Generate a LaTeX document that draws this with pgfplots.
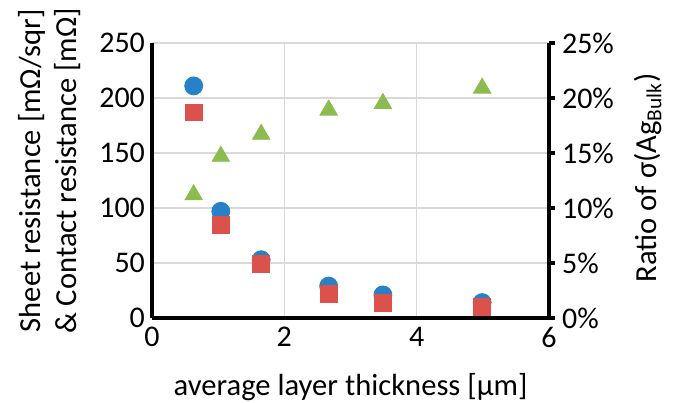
\documentclass[border=0pt]{standalone}
\usepackage{fontspec}
\setmainfont{Carlito}
\usepackage{pgfplots}
\pgfplotsset{compat=1.18}

\definecolor{cblue}{RGB}{39,129,198}
\definecolor{cred}{RGB}{219,82,76}
\definecolor{cgreen}{RGB}{140,187,80}

\newcommand{\fs}{\fontsize{15.3pt}{18pt}\selectfont}
\newcommand{\ft}{\fontsize{15pt}{17pt}\selectfont}

\begin{document}
\begin{tikzpicture}
\pgfplotsset{
  every axis/.append style={
    scale only axis,
    width=198.5pt, height=137.5pt,
    xmin=0, xmax=6,
    axis line style={line width=2pt},
    tick label style={font=\ft},
    label style={font=\fs},
    /pgf/number format/assume math mode=true,
    clip=false,
  },
}
% left axis: resistances
\begin{axis}[
  axis x line*=bottom,
  axis y line*=left,
  ymin=0, ymax=250,
  xtick={0,2,4,6},
  ytick={0,50,...,250},
  major tick length=0pt,
  grid=major,
  major grid style={gray!30, line width=0.7pt},
  ylabel={Sheet resistance [mΩ/sqr]\\\& Contact resistance [mΩ]},
  ylabel style={align=center, at={(axis description cs:-0.257,0.535)}, anchor=center},
  xlabel={average layer thickness [µm]},
  xlabel style={at={(axis description cs:0.5,-0.25)}, anchor=center},
  xticklabel style={yshift=-1pt},
]
\addplot[only marks, mark=*, mark size=4.5pt, cblue, mark options={draw=cblue, fill=cblue}]
  coordinates {(0.63,211) (1.04,97) (1.65,53) (2.67,29) (3.49,21) (4.99,14)};
\addplot[only marks, mark=square*, mark size=4.2pt, cred, mark options={draw=cred, fill=cred}]
  coordinates {(0.63,187) (1.04,85) (1.65,49) (2.67,22) (3.49,14) (4.99,10)};
\end{axis}
% right axis: ratio of bulk conductivity
\begin{axis}[
  axis x line=none,
  axis y line*=right,
  ymin=0, ymax=25,
  ytick={0,5,...,25},
  yticklabel={\pgfmathprintnumber{\tick}\%},
  tick align=outside,
  major tick length=3pt,
  ytick style={line width=2pt, black},
  ylabel={Ratio of σ(Ag\textsubscript{Bulk})},
  ylabel style={at={(axis description cs:1.249,0.51)}, anchor=center},
]
\addplot[only marks, mark=triangle*, mark size=5pt, cgreen, mark options={draw=cgreen, fill=cgreen}]
  coordinates {(0.63,11.2) (1.04,14.7) (1.65,16.7) (2.67,18.9) (3.49,19.5) (4.99,20.9)};
\end{axis}
\pgfresetboundingbox
\path (-76pt,-42pt) rectangle (263pt,159pt);
\end{tikzpicture}
\end{document}
